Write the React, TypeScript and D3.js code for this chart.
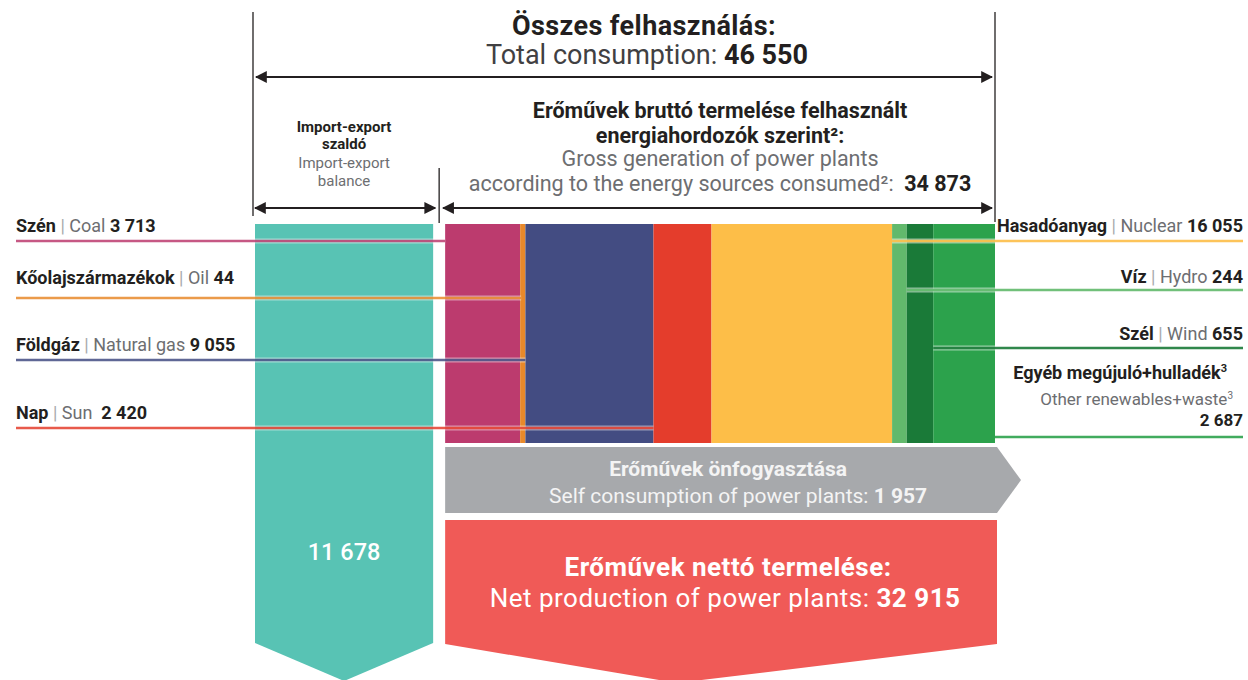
import React from 'react';
import * as d3 from 'd3';

// energy sources of gross generation (GWh)
const sourcesHu = ['Szén', 'Kőolajszármazékok', 'Földgáz', 'Nap', 'Hasadóanyag', 'Víz', 'Szél', 'Egyéb megújuló+hulladék'];
const sourcesEn = ['Coal', 'Oil', 'Natural gas', 'Sun', 'Nuclear', 'Hydro', 'Wind', 'Other renewables+waste'];
const sourceValues = [3713, 44, 9055, 2420, 16055, 244, 655, 2687];
const sourceColors = ['#bc3b6e', '#e8892a', '#434c82', '#e43d2c', '#fdbe48', '#62b96c', '#1a7a38', '#2ca24c'];

const totalConsumption = 46550;
const importExportBalance = 11678;
const grossGeneration = 34873;
const selfConsumption = 1957;
const netProduction = 32915;

const W = 1248;
const H = 680;
const FONT = 'Roboto, "Noto Sans", sans-serif';
const DARK = '#231f20';
const GREY = '#6d6e71';

const fmt = d3.formatLocale({ decimal: ',', thousands: ' ', grouping: [3], currency: ['', ''] }).format(',');

// label layout: baseline of the text and y of its leader line
const leftLabelY = [232, 284, 351, 419];
const leftLineY = [241, 298, 360, 428];
const rightLabelY = [232, 283, 340, 379];
const rightLineY = [241, 290, 348, 437];

export default function App() {
  const x = d3.scaleLinear().domain([0, totalConsumption]).range([253, 995]);
  const split = x(importExportBalance);
  const tealX0 = x(0) + 2;
  const tealX1 = split - 6;
  const grossX0 = split + 6;
  const grossX1 = x(totalConsumption);

  // segment widths are drawn on a compressed (power) scale, as in the original layout
  const weight = d3.scalePow().exponent(0.6).domain([0, 1]).range([0, 1]);
  const weights = sourceValues.map((v) => weight(v / grossGeneration));
  const cum = [0, ...d3.cumsum(weights)];
  const gx = d3.scaleLinear().domain([0, cum[cum.length - 1]]).range([grossX0, grossX1]);
  const segs = sourceValues.map((v, i) => ({ x0: gx(cum[i]), x1: gx(cum[i + 1]), color: sourceColors[i] }));

  const barTop = 224;
  const barBottom = 443;
  const tealMid = (tealX0 + tealX1) / 2;
  const grossMid = (grossX0 + grossX1) / 2;
  const redTip = grossX0 + (grossX1 + 2 - grossX0) * 0.42;

  const tealPath = `M${tealX0},${barTop}H${tealX1}V643L${tealMid},681L${tealX0},643Z`;
  const greyPath = `M${grossX0},447H${grossX1 + 2}L${grossX1 + 26},480L${grossX1 + 2},513H${grossX0}Z`;
  const redPath = `M${grossX0},520H${grossX1 + 2}V644L${redTip},683L${grossX0},644Z`;

  const lineStyle = { strokeWidth: 2.4 };
  const labelSize = 18;

  return (
    <svg width={W} height={H} style={{ position: 'absolute', left: 0, top: 0, fontFamily: FONT }}>
      <defs>
        <marker id="ah" viewBox="0 0 10 10" refX="9" refY="5" markerWidth="12" markerHeight="12"
          markerUnits="userSpaceOnUse" orient="auto-start-reverse">
          <path d="M0,0L10,5L0,10Z" fill={DARK} />
        </marker>
      </defs>
      <rect width={W} height={H} fill="#fff" />

      {/* brackets */}
      <line x1={x(0)} x2={x(0)} y1={12} y2={216} stroke={DARK} strokeWidth={1.3} />
      <line x1={grossX1} x2={grossX1} y1={12} y2={222} stroke={DARK} strokeWidth={1.3} />
      <line x1={split} x2={split} y1={168} y2={223} stroke={DARK} strokeWidth={1.3} />
      <line x1={x(0) + 3} x2={grossX1 - 3} y1={77} y2={77} stroke={DARK} strokeWidth={2}
        markerStart="url(#ah)" markerEnd="url(#ah)" />
      <line x1={tealX0} x2={split - 4} y1={208} y2={208} stroke={DARK} strokeWidth={2}
        markerStart="url(#ah)" markerEnd="url(#ah)" />
      <line x1={split + 4} x2={grossX1 - 3} y1={208} y2={208} stroke={DARK} strokeWidth={2}
        markerStart="url(#ah)" markerEnd="url(#ah)" />

      {/* headers */}
      <text x={(x(0) + grossX1) / 2 + 20} y={35} textAnchor="middle" fontSize={27} fontWeight={700}
        letterSpacing={0.4} fill={DARK}>
        Összes felhasználás:
      </text>
      <text x={(x(0) + grossX1) / 2 + 23} y={64} textAnchor="middle" fontSize={27} fill="#414042">
        Total consumption: <tspan fontWeight={700} fill={DARK}>{fmt(totalConsumption)}</tspan>
      </text>

      <g textAnchor="middle" fontSize={15}>
        <text x={tealMid} y={132} fontWeight={700} fill={DARK}>Import-export</text>
        <text x={tealMid} y={149} fontWeight={700} fill={DARK}>szaldó</text>
        <text x={tealMid} y={168} fill={GREY}>Import-export</text>
        <text x={tealMid} y={186} fill={GREY}>balance</text>
      </g>

      <g textAnchor="middle" fontSize={21.5}>
        <text x={grossMid} y={118} fontWeight={700} fill={DARK}>Erőművek bruttó termelése felhasznált</text>
        <text x={grossMid} y={143} fontWeight={700} fill={DARK}>energiahordozók szerint²:</text>
        <text x={grossMid} y={166} fill={GREY}>Gross generation of power plants</text>
        <text x={grossMid} y={191} fill={GREY}>
          according to the energy sources consumed²:{'\u00a0\u00a0'}
          <tspan fontWeight={700} fill={DARK}>{fmt(grossGeneration)}</tspan>
        </text>
      </g>

      {/* import-export balance */}
      <path d={tealPath} fill="#58c3b4" />
      <text x={tealMid} y={560} textAnchor="middle" fontSize={23.5} fontWeight={500} fill="#fff">
        {fmt(importExportBalance)}
      </text>

      {/* gross generation by source */}
      {segs.map((s, i) => (
        <rect key={i} x={s.x0} y={barTop} width={s.x1 - s.x0} height={barBottom - barTop} fill={s.color} />
      ))}

      {/* leader lines, left side */}
      {[0, 1, 2, 3].map((i) => {
        const end = i === 1 ? segs[i].x0 + 1 : segs[i].x0;
        return (
          <g key={'ll' + i}>
            <line x1={16} x2={end} y1={leftLineY[i]} y2={leftLineY[i]} stroke="#fff" strokeOpacity={0.45} strokeWidth={5} />
            <line x1={16} x2={end} y1={leftLineY[i]} y2={leftLineY[i]} stroke={sourceColors[i]} strokeOpacity={0.85} {...lineStyle} />
          </g>
        );
      })}
      {[0, 1, 2, 3].map((i) => (
        <text key={'lt' + i} x={16} y={leftLabelY[i]} fontSize={labelSize} fill={DARK}>
          <tspan fontWeight={700}>{sourcesHu[i]}</tspan>
          <tspan fill="#a7a9ac"> | </tspan>
          <tspan fill={GREY}>{sourcesEn[i]}</tspan>
          <tspan fontWeight={700}>{(i === 3 ? '\u00a0\u00a0' : ' ') + fmt(sourceValues[i])}</tspan>
        </text>
      ))}

      {/* leader lines, right side */}
      {[4, 5, 6, 7].map((i, k) => {
        const start = segs[i].x1;
        return (
          <g key={'rl' + i}>
            <line x1={start} x2={1243} y1={rightLineY[k]} y2={rightLineY[k]} stroke="#fff" strokeOpacity={0.5} strokeWidth={5} />
            <line x1={start} x2={1243} y1={rightLineY[k]} y2={rightLineY[k]} stroke={sourceColors[i]} strokeOpacity={0.9} {...lineStyle} />
          </g>
        );
      })}
      {[4, 5, 6].map((i, k) => (
        <text key={'rt' + i} x={1243} y={rightLabelY[k]} textAnchor="end" fontSize={labelSize} fill={DARK}>
          <tspan fontWeight={700}>{sourcesHu[i]}</tspan>
          <tspan fill="#a7a9ac"> | </tspan>
          <tspan fill={GREY}>{sourcesEn[i]} </tspan>
          <tspan fontWeight={700}>{fmt(sourceValues[i])}</tspan>
        </text>
      ))}
      <text x={1227} y={rightLabelY[3]} textAnchor="end" fontSize={labelSize} fontWeight={700} fill={DARK}>
        {sourcesHu[7]}<tspan fontSize={11} dy={-7}>3</tspan>
      </text>
      <text x={1233} y={405} textAnchor="end" fontSize={17} fill={GREY}>
        {sourcesEn[7]}<tspan fontSize={10} dy={-6}>3</tspan>
      </text>
      <text x={1243} y={426} textAnchor="end" fontSize={17} fontWeight={700} fill={DARK}>
        {fmt(sourceValues[7])}
      </text>

      {/* self consumption */}
      <path d={greyPath} fill="#a7a9ac" />
      <g textAnchor="middle" fill="#f4f4f4" fontSize={21}>
        <text x={grossMid + 8} y={476} fontWeight={700}>Erőművek önfogyasztása</text>
        <text x={grossMid + 18} y={503}>
          Self consumption of power plants: <tspan fontWeight={700}>{fmt(selfConsumption)}</tspan>
        </text>
      </g>

      {/* net production */}
      <path d={redPath} fill="#f05a57" />
      <g textAnchor="middle" fill="#fff" fontSize={26} letterSpacing={0.5}>
        <text x={grossMid + 8} y={576} fontWeight={700}>Erőművek nettó termelése:</text>
        <text x={grossMid + 5} y={607}>
          Net production of power plants: <tspan fontWeight={700}>{fmt(netProduction)}</tspan>
        </text>
      </g>
    </svg>
  );
}
